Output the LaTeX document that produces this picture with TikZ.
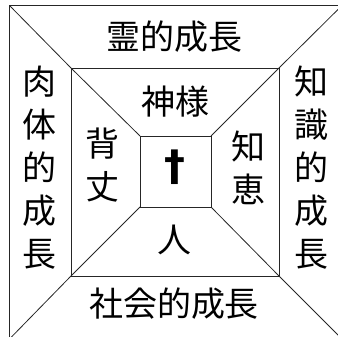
\documentclass[tikz,border=0pt]{standalone}
\usepackage{fontspec}
\newfontfamily\cjk{Noto Sans CJK JP}
\newfontfamily\crossfont{DejaVu Sans}
\tikzset{
  frame/.style={draw=black!85, line width=0.8pt},
  lbl/.style={inner sep=0pt, align=center, font=\cjk\fontsize{34}{43}\selectfont},
  crossl/.style={inner sep=0pt, font=\crossfont\bfseries\fontsize{42}{42}\selectfont}
}
\begin{document}
\begin{tikzpicture}[x=1pt,y=-1pt]
\useasboundingbox (0,0) rectangle (338,337);
\begin{scope}
\clip (0,0) rectangle (338,337);
% outer square corners
\coordinate (o1) at (9.5,5.5);
\coordinate (o2) at (342,5.5);
\coordinate (o3) at (342,339);
\coordinate (o4) at (9.5,339);
% middle square
\coordinate (m1) at (71,68);
\coordinate (m2) at (279,68);
\coordinate (m3) at (279,276);
\coordinate (m4) at (71,276);
% inner square
\coordinate (i1) at (140,136);
\coordinate (i2) at (211,136);
\coordinate (i3) at (211,207);
\coordinate (i4) at (140,207);
\draw[frame] (o1) -- (o2) -- (o3) -- (o4) -- cycle;
\draw[frame] (m1) -- (m2) -- (m3) -- (m4) -- cycle;
\draw[frame] (i1) -- (i2) -- (i3) -- (i4) -- cycle;
\draw[frame] (o1) -- (m1) -- (i1);
\draw[frame] (o2) -- (m2) -- (i2);
\draw[frame] (o3) -- (m3) -- (i3);
\draw[frame] (o4) -- (m4) -- (i4);
\end{scope}
\node[lbl] (rei) at (174.5,36.5) {霊的成長};
\node[lbl] (nikutai) at (39,167.5) {肉\\体\\的\\成\\長};
\node[lbl] (chishiki) at (311.5,167.5) {知\\識\\的\\成\\長};
\node[lbl] (shakai) at (174,303.5) {社会的成長};
\node[lbl] (kami) at (175,102) {神様};
\node[lbl] (setake) at (102,165) {背\\丈};
\node[lbl] (chie) at (248.5,168) {知\\恵};
\node[lbl] (hito) at (174,240) {人};
\node[crossl] (cross) at (174.5,167.5) {†};
\end{tikzpicture}
\end{document}
